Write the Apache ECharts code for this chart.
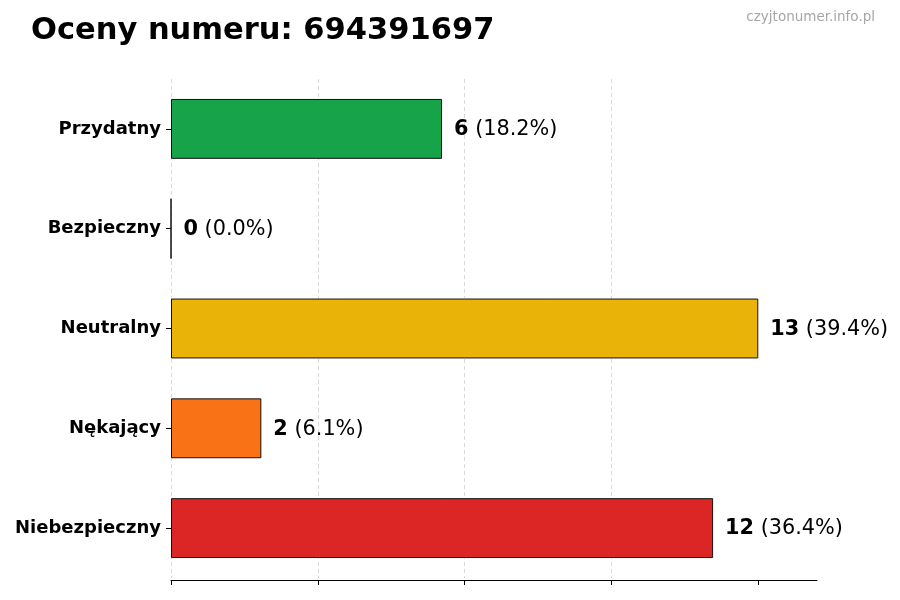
<!DOCTYPE html>
<html>
<head>
<meta charset="utf-8">
<script src="https://cdn.jsdelivr.net/npm/echarts@6/dist/echarts.min.js"></script>
<style>html,body{margin:0;padding:0;background:#fff}#c{width:900px;height:600px}</style>
</head>
<body>
<div id="c"></div>
<script>
const titleText = "Oceny numeru: 694391697";
const watermark = "czyjtonumer.info.pl";
const categories = ["Przydatny", "Bezpieczny", "Neutralny", "Nękający", "Niebezpieczny"];
const values = [6, 0, 13, 2, 12];
const colors = ["#16a34a", "#3b82f6", "#eab308", "#f97316", "#dc2626"];
const xTicks = [0, 3.25, 6.5, 9.75, 13];
const xMax = 14.3;

const total = values.reduce((a, b) => a + b, 0);
const font = "DejaVu Sans";

const chart = echarts.init(document.getElementById('c'), null, {renderer: 'canvas'});
chart.setOption({
  animation: false,
  backgroundColor: '#fff',
  title: {
    text: titleText,
    left: 26, top: 11,
    textStyle: {fontFamily: font, fontSize: 30.5, fontWeight: 'bold', color: '#000'}
  },
  graphic: [{
    type: 'text', right: 25, top: 10,
    style: {text: watermark, fontFamily: font, fontSize: 13.5, fill: '#a6a6a6'}
  }],
  grid: {left: 171, right: 83, top: 79, bottom: 22, containLabel: false},
  xAxis: {
    type: 'value', min: 0, max: xMax, interval: 3.25,
    offset: 2,
    axisLine: {show: true, lineStyle: {color: '#000', width: 1}},
    axisTick: {show: true, length: 5, customValues: xTicks, lineStyle: {color: '#000', width: 1}},
    axisLabel: {show: false},
    splitLine: {show: true, showMaxLine: false, lineStyle: {color: '#d0d0d0', type: [4, 3], width: 0.8}}
  },
  yAxis: {
    type: 'category', data: categories, inverse: true,
    axisLine: {show: false},
    axisTick: {show: true, length: 5, alignWithLabel: true, lineStyle: {color: '#000'}},
    axisLabel: {margin: 10, fontFamily: font, fontSize: 18, fontWeight: 'bold', color: '#000', padding: [3, 0, 0, 0]},
    splitLine: {show: false}
  },
  series: [{
    type: 'bar',
    barWidth: '60%',
    data: values.map((v, i) => ({value: v, itemStyle: {color: colors[i]}})),
    itemStyle: {borderColor: '#111', borderWidth: 1},
    label: {
      show: true, position: 'right', distance: 12, offset: [0, 1],
      formatter: p => `{b|${p.value}}{n| (${(p.value / total * 100).toFixed(1)}%)}`,
      rich: {
        b: {fontFamily: font, fontSize: 20.8, fontWeight: 'bold', color: '#000'},
        n: {fontFamily: font, fontSize: 20.8, color: '#000'}
      }
    }
  }]
});
</script>
</body>
</html>
